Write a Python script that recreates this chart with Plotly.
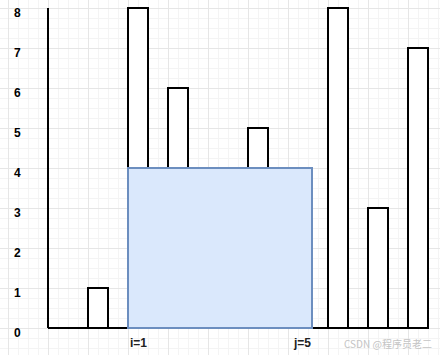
import plotly.graph_objects as go

heights = [1, 8, 6, 2, 5, 4, 8, 3, 7]
indices = list(range(len(heights)))
y_ticks = [0, 1, 2, 3, 4, 5, 6, 7, 8]
i_idx, j_idx = 1, 5
i_label, j_label = "i=1", "j=5"
watermark = "CSDN @程序员老二"

water_h = min(heights[i_idx], heights[j_idx])
axis_x = -1.25

fig = go.Figure()

# baseline and left wall
fig.add_trace(go.Scatter(x=[axis_x, indices[-1] + 0.25], y=[0, 0], mode="lines",
                         line=dict(color="black", width=2), hoverinfo="skip", showlegend=False))
fig.add_trace(go.Scatter(x=[axis_x, axis_x], y=[0, max(heights)], mode="lines",
                         line=dict(color="black", width=2), hoverinfo="skip", showlegend=False))

fig.add_trace(go.Bar(x=indices, y=heights, width=0.5,
                     marker=dict(color="white", line=dict(color="black", width=2)),
                     showlegend=False))

fig.add_shape(type="rect", x0=i_idx - 0.25, x1=j_idx + 0.35, y0=0, y1=water_h,
              xref="x", yref="y", fillcolor="#dae8fc",
              line=dict(color="#6c8ebf", width=2), layer="above")

for t in y_ticks:
    fig.add_annotation(x=12 / 440, xref="paper", y=t, yref="y", text=f"<b>{t}</b>",
                       showarrow=False, yshift=-5,
                       font=dict(family="Liberation Sans, Arial", size=12, color="black"))

fig.add_annotation(x=i_idx, y=0, text=f"<b>{i_label}</b>", showarrow=False, yshift=-15,
                   font=dict(family="Liberation Sans, Arial", size=12, color="#222"))
fig.add_annotation(x=j_idx, y=0, text=f"<b>{j_label}</b>", showarrow=False, yshift=-15, xshift=4,
                   font=dict(family="Liberation Sans, Arial", size=12, color="#222"))
fig.add_annotation(x=7.25, y=0, text=watermark, showarrow=False, yshift=-15,
                   font=dict(family="Noto Sans CJK SC", size=10, color="#c4c4c4"))

fig.update_layout(
    width=440, height=355, margin=dict(l=0, r=0, t=0, b=0),
    paper_bgcolor="white", plot_bgcolor="white", bargap=0,
    xaxis=dict(range=[-2.45, 8.55], showticklabels=False, zeroline=False,
               tick0=0.75, dtick=1, showgrid=True, gridcolor="#e6e6e6", gridwidth=1,
               minor=dict(tick0=0.75, dtick=0.25, showgrid=True, gridcolor="#f4f4f4", gridwidth=1),
               fixedrange=True),
    yaxis=dict(range=[-0.675, 8.2], showticklabels=False, zeroline=False,
               tick0=0, dtick=1, showgrid=True, gridcolor="#e6e6e6", gridwidth=1,
               minor=dict(tick0=0, dtick=0.25, showgrid=True, gridcolor="#f4f4f4", gridwidth=1),
               fixedrange=True),
)

fig.write_html("out.html")
